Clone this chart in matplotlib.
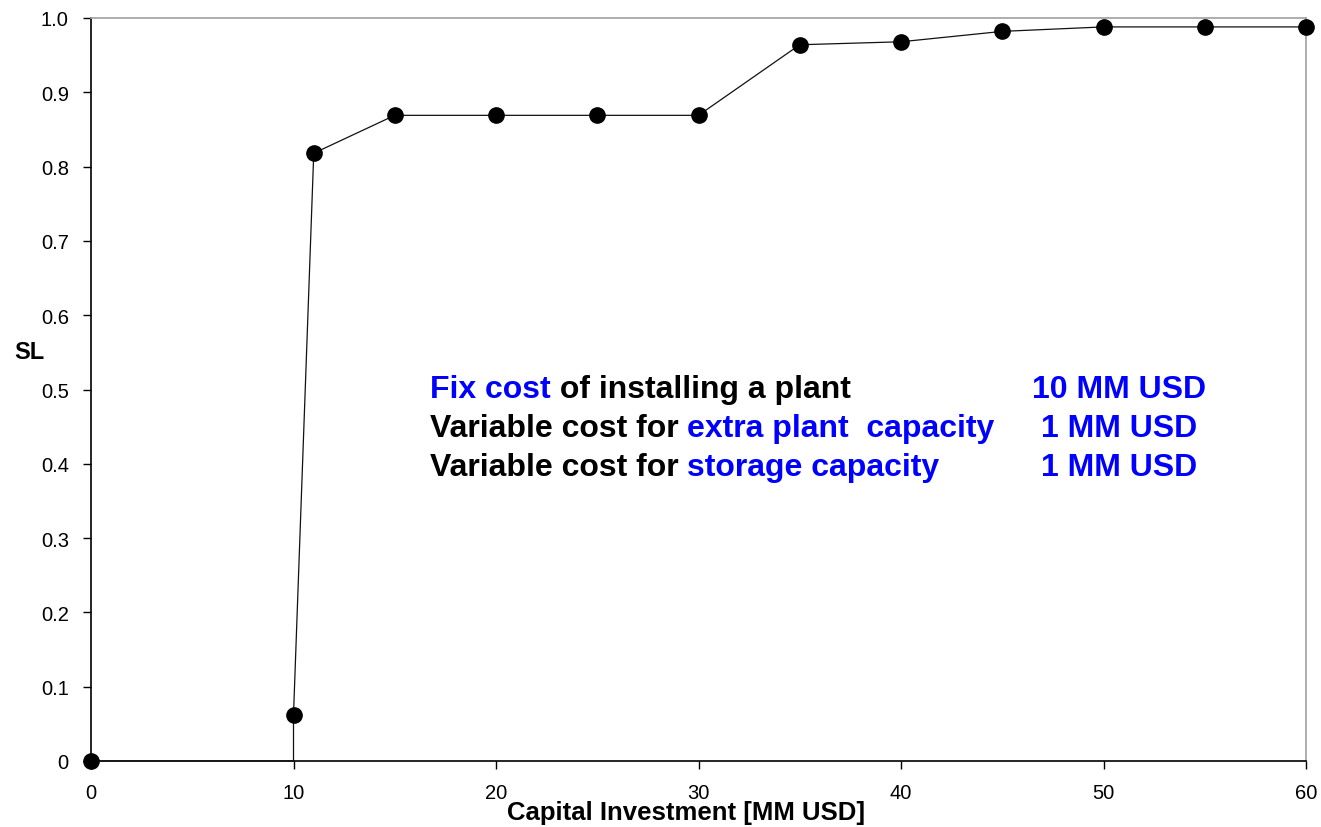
import matplotlib
matplotlib.use("Agg")
import matplotlib.pyplot as plt

plt.rcParams['font.family'] = ['Liberation Sans', 'DejaVu Sans']

# Series: the step at 10 MM USD starts on the axis (vertex without marker)
capital = [0, 10, 10, 11, 15, 20, 25, 30, 35, 40, 45, 50, 55, 60]
sl = [0.0, 0.0, 0.062, 0.818, 0.869, 0.869, 0.869, 0.869, 0.964, 0.968, 0.982, 0.988, 0.988, 0.988]
marker_idx = [0, 2, 3, 4, 5, 6, 7, 8, 9, 10, 11, 12, 13]

xticks = [0, 10, 20, 30, 40, 50, 60]
yticks = [0, 0.1, 0.2, 0.3, 0.4, 0.5, 0.6, 0.7, 0.8, 0.9, 1.0]
ytick_labels = ["0", "0.1", "0.2", "0.3", "0.4", "0.5", "0.6", "0.7", "0.8", "0.9", "1.0"]

notes = [
    [("Fix cost", "blue"), (" of installing a plant", "black")],
    [("Variable cost for ", "black"), ("extra plant  capacity", "blue")],
    [("Variable cost for ", "black"), ("storage capacity", "blue")],
]
note_values = ["10 MM USD", "1 MM USD", "1 MM USD"]

W, H = 1321, 828
fig = plt.figure(figsize=(W / 100, H / 100), dpi=100)
ax = fig.add_axes([91 / W, 1 - 762 / H, (1306 - 91) / W, (762 - 19) / H])

ax.plot(capital, sl, color='#111111', lw=0.9, marker='o', ms=11, markevery=marker_idx,
        markerfacecolor='black', markeredgecolor='black', clip_on=False, zorder=3)

ax.set_xlim(0, 60)
ax.set_ylim(0, 1.0)
ax.set_xticks(xticks)
ax.set_yticks(yticks)
ax.set_yticklabels(ytick_labels)
ax.tick_params(axis='both', direction='out', length=6, width=1, labelsize=14.5, colors='black')
ax.tick_params(axis='x', pad=10)
ax.tick_params(axis='y', pad=10)
for s in ['top', 'right']:
    ax.spines[s].set_color('#a0a0a0')
    ax.spines[s].set_linewidth(1.2)
for s in ['left', 'bottom']:
    ax.spines[s].set_color('black')
    ax.spines[s].set_linewidth(1.2)

fig.text(686 / W, 1 - 813 / H, "Capital Investment [MM USD]", ha='center', va='center',
         fontsize=18.5, fontweight='bold')
fig.text(29 / W, 1 - 353 / H, "SL", ha='center', va='center', fontsize=17, fontweight='bold')

baselines = [0.4899, 0.4374, 0.3849]
fs = 23
for segs, yb in zip(notes, baselines):
    prev = None
    for txt, col in segs:
        if prev is None:
            prev = ax.text(16.74, yb, txt, color=col, fontsize=fs, fontweight='bold',
                           ha='left', va='baseline')
        else:
            prev = ax.annotate(txt, xy=(1, 0), xycoords=prev, color=col, fontsize=fs,
                               fontweight='bold', ha='left', va='bottom')

for v, yb in zip(note_values, baselines):
    ax.text(50.77, yb, v, color='blue', fontsize=fs, fontweight='bold', ha='center', va='baseline')

fig.savefig("out.png", dpi=100)
